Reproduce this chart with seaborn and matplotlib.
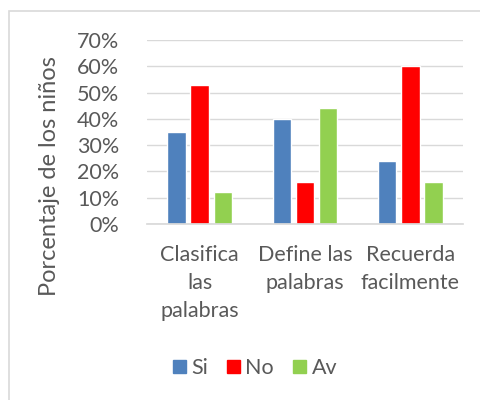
import matplotlib
matplotlib.use("Agg")
import matplotlib.pyplot as plt
import seaborn as sns
import pandas as pd
from matplotlib.patches import Rectangle
from matplotlib.ticker import PercentFormatter

categories = ["Clasifica\nlas\npalabras", "Define las\npalabras", "Recuerda\nfacilmente"]
series = ["Si", "No", "Av"]
si_vals = [0.35, 0.40, 0.24]
no_vals = [0.53, 0.16, 0.60]
av_vals = [0.12, 0.44, 0.16]
colors = ["#4f81bd", "#ff0000", "#92d050"]

rows = []
for name, vals in zip(series, [si_vals, no_vals, av_vals]):
    for c, v in zip(categories, vals):
        rows.append({"cat": c, "serie": name, "val": v})
df = pd.DataFrame(rows)

sns.set_theme(style="white")
plt.rcParams["font.family"] = ["Lato", "DejaVu Sans"]
txt = "#595959"
fs = 15.5

fig = plt.figure(figsize=(4.81, 4.00), dpi=100)
ax = fig.add_axes([147/481, 1-224/400, (463-147)/481, (224-40)/400])

sns.barplot(data=df, x="cat", y="val", hue="serie", palette=colors,
            width=0.66, gap=0.2, ax=ax, legend=False, saturation=1)

ax.set_ylim(0, 0.7)
ax.set_xlim(-0.5, 2.5)
ax.set_yticks([i/10 for i in range(8)])
ax.yaxis.set_major_formatter(PercentFormatter(1.0, decimals=0))
ax.grid(axis="y", color="#d9d9d9", linewidth=1)
ax.set_axisbelow(True)
for s in ["top", "right", "left"]:
    ax.spines[s].set_visible(False)
ax.spines["bottom"].set_color("#d9d9d9")
ax.tick_params(axis="y", labelsize=fs, colors=txt, length=0, pad=20)
ax.tick_params(axis="x", labelsize=fs, colors=txt, length=0, pad=15)
for lab in ax.get_xticklabels():
    lab.set_linespacing(1.5)
ax.set_xlabel("")
ax.set_ylabel("Porcentaje de los niños", fontsize=17, color=txt)
ax.yaxis.set_label_coords((60-147)/316, (224-176)/184)

handles = [Rectangle((0, 0), 1, 1, color=c) for c in colors]
fig.legend(handles, series, loc="center", bbox_to_anchor=(255/481, 1-368/400),
           ncol=3, frameon=False, fontsize=fs, handlelength=0.6, handleheight=0.6,
           handletextpad=0.25, columnspacing=0.9, labelcolor=txt)

fig.patches.append(Rectangle((9/481, -0.2), 1.2, 1.2 - 11/400, transform=fig.transFigure,
                             fill=False, edgecolor="#d9d9d9", linewidth=1.2, figure=fig))

fig.savefig("out.png", dpi=100)
